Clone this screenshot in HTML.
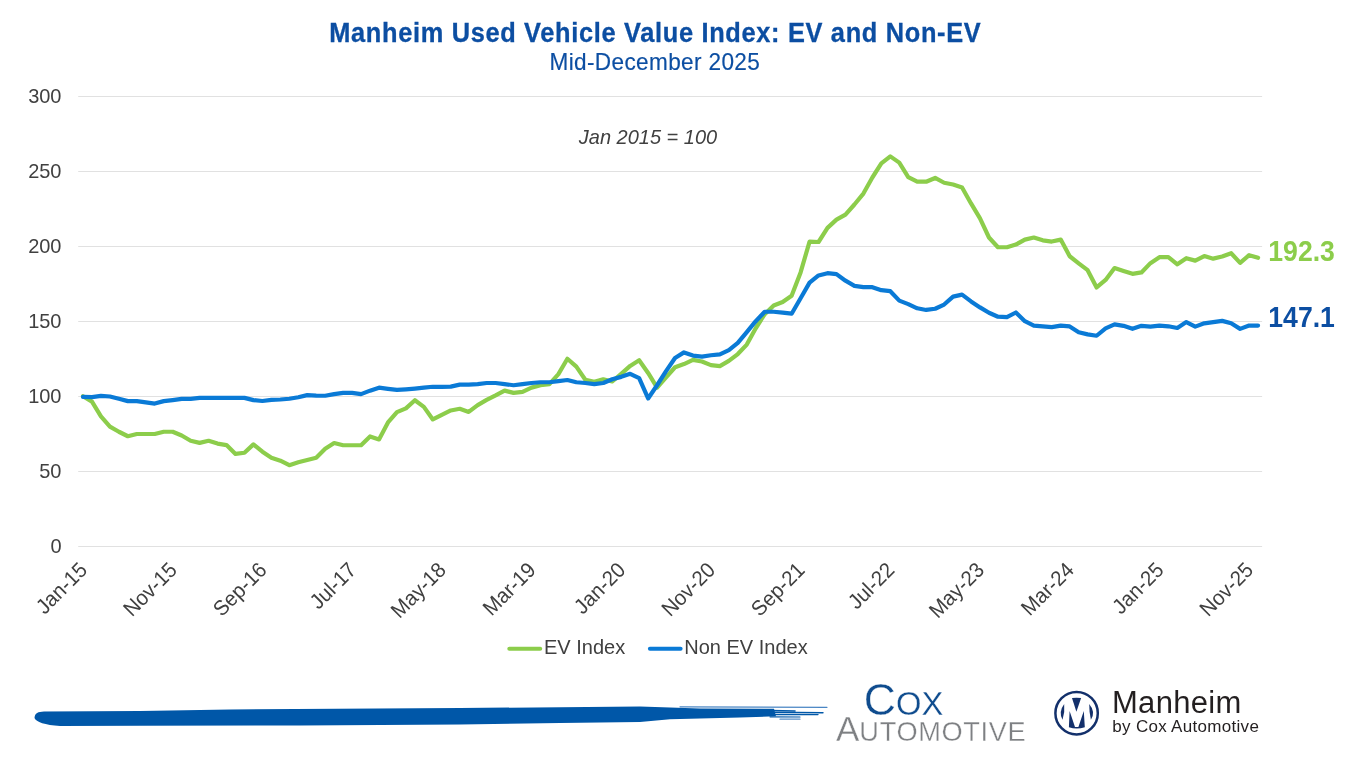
<!DOCTYPE html>
<html><head><meta charset="utf-8">
<style>
html,body{margin:0;padding:0;background:#fff;}
body{width:1356px;height:768px;overflow:hidden;}
svg{display:block;font-family:"Liberation Sans",sans-serif;will-change:transform;}
</style></head><body>
<svg width="1356" height="768" viewBox="0 0 1356 768">
<rect width="1356" height="768" fill="#fff"/>
<text transform="translate(655.30,42.00) scale(0.95,1.045)" font-size="26.7" text-anchor="middle" font-weight="bold" letter-spacing="0.72" fill="#0C4EA2" stroke="#0C4EA2" stroke-width="0.3">Manheim Used Vehicle Value Index: EV and Non-EV</text>

<text transform="translate(654.80,69.90) scale(1.0,1.045)" font-size="22.6" text-anchor="middle" letter-spacing="0.35" fill="#0C4EA2" stroke="#0C4EA2" stroke-width="0.15">Mid-December 2025</text>

<g><line x1="78.2" y1="546.50" x2="1262.1" y2="546.50" stroke="#E1E1E1" stroke-width="1.2"/>
<line x1="78.2" y1="471.50" x2="1262.1" y2="471.50" stroke="#E1E1E1" stroke-width="1.2"/>
<line x1="78.2" y1="396.50" x2="1262.1" y2="396.50" stroke="#E1E1E1" stroke-width="1.2"/>
<line x1="78.2" y1="321.50" x2="1262.1" y2="321.50" stroke="#E1E1E1" stroke-width="1.2"/>
<line x1="78.2" y1="246.50" x2="1262.1" y2="246.50" stroke="#E1E1E1" stroke-width="1.2"/>
<line x1="78.2" y1="171.50" x2="1262.1" y2="171.50" stroke="#E1E1E1" stroke-width="1.2"/>
<line x1="78.2" y1="96.50" x2="1262.1" y2="96.50" stroke="#E1E1E1" stroke-width="1.2"/>
</g>
<g fill="#404040"><text transform="translate(61.50,552.50) scale(1.0,1.05)" font-size="20" text-anchor="end" >0</text>
<text transform="translate(61.50,477.50) scale(1.0,1.05)" font-size="20" text-anchor="end" >50</text>
<text transform="translate(61.50,402.50) scale(1.0,1.05)" font-size="20" text-anchor="end" >100</text>
<text transform="translate(61.50,327.50) scale(1.0,1.05)" font-size="20" text-anchor="end" >150</text>
<text transform="translate(61.50,252.50) scale(1.0,1.05)" font-size="20" text-anchor="end" >200</text>
<text transform="translate(61.50,177.50) scale(1.0,1.05)" font-size="20" text-anchor="end" >250</text>
<text transform="translate(61.50,102.50) scale(1.0,1.05)" font-size="20" text-anchor="end" >300</text>
</g>
<text transform="translate(648.00,143.90) scale(1.0,1.04)" font-size="20" text-anchor="middle" font-style="italic" fill="#404040">Jan 2015 = 100</text>

<polyline points="83.00,396.20 91.97,401.60 100.94,416.30 109.91,426.65 118.88,431.75 127.85,436.25 136.82,434.00 145.79,434.00 154.76,434.00 163.73,431.75 172.70,431.75 181.67,435.50 190.64,440.75 199.61,442.85 208.58,440.75 217.55,443.60 226.52,445.10 235.49,453.95 244.46,452.75 253.43,444.35 262.40,451.70 271.37,457.70 280.34,460.70 289.31,465.20 298.28,462.20 307.25,459.95 316.22,457.70 325.19,448.85 334.16,443.00 343.13,445.25 352.10,445.25 361.07,445.25 370.04,436.40 379.01,439.40 387.98,422.45 396.95,412.10 405.92,408.35 414.89,400.25 423.86,406.85 432.83,419.45 441.80,414.80 450.77,410.45 459.74,408.80 468.71,411.95 477.68,405.05 486.65,399.95 495.62,395.45 504.59,390.65 513.56,392.90 522.53,391.85 531.50,387.65 540.47,385.25 549.44,384.20 558.41,374.15 567.38,358.70 576.35,366.65 585.32,379.70 594.29,381.80 603.26,379.25 612.23,381.50 621.20,373.85 630.17,365.90 639.14,360.20 648.11,372.95 657.08,387.65 666.05,377.45 675.02,367.25 683.99,364.10 692.96,359.90 701.93,361.55 710.90,365.15 719.87,366.05 728.84,360.95 737.81,354.05 746.78,344.60 755.75,328.25 764.72,314.15 773.69,305.45 782.66,302.00 791.63,295.70 800.60,272.45 809.57,241.55 818.54,242.00 827.51,227.90 836.48,219.65 845.45,214.55 854.42,204.50 863.39,193.55 872.36,177.50 881.33,163.40 890.30,156.35 899.27,162.65 908.24,177.05 917.21,181.70 926.18,181.70 935.15,177.95 944.12,182.75 953.09,184.55 962.06,187.40 971.03,203.45 980.00,218.45 988.97,237.50 997.94,247.25 1006.91,247.25 1015.88,244.55 1024.85,239.60 1033.82,237.50 1042.79,240.35 1051.76,241.55 1060.73,239.60 1069.70,256.25 1078.67,263.30 1087.64,270.20 1096.61,287.45 1105.58,279.95 1114.55,268.10 1123.52,270.95 1132.49,273.80 1141.46,272.45 1150.43,263.15 1159.40,257.15 1168.37,257.15 1177.34,264.35 1186.31,258.20 1195.28,260.60 1204.25,256.10 1213.22,258.65 1222.19,256.55 1231.16,253.25 1240.13,262.85 1249.10,255.20 1258.07,257.75" fill="none" stroke="#8CCD4B" stroke-width="4.2" stroke-linejoin="round" stroke-linecap="round"/>
<polyline points="83.00,396.95 91.97,397.10 100.94,395.90 109.91,396.50 118.88,398.75 127.85,401.15 136.82,401.15 145.79,402.35 154.76,403.55 163.73,401.15 172.70,400.10 181.67,398.90 190.64,398.90 199.61,397.85 208.58,397.85 217.55,397.85 226.52,397.85 235.49,397.85 244.46,397.85 253.43,400.10 262.40,401.00 271.37,399.95 280.34,399.50 289.31,398.75 298.28,397.25 307.25,395.15 316.22,395.60 325.19,395.75 334.16,394.10 343.13,392.90 352.10,392.90 361.07,394.10 370.04,390.65 379.01,387.65 387.98,388.85 396.95,389.90 405.92,389.30 414.89,388.55 423.86,387.65 432.83,386.75 441.80,386.90 450.77,386.60 459.74,384.65 468.71,384.65 477.68,384.05 486.65,383.00 495.62,383.00 504.59,384.05 513.56,385.25 522.53,384.20 531.50,383.00 540.47,382.25 549.44,382.25 558.41,381.20 567.38,380.00 576.35,382.25 585.32,383.00 594.29,384.20 603.26,383.00 612.23,379.25 621.20,376.85 630.17,373.85 639.14,378.20 648.11,398.45 657.08,385.25 666.05,371.15 675.02,357.95 683.99,352.40 692.96,355.55 701.93,356.60 710.90,355.25 719.87,354.35 728.84,350.15 737.81,342.95 746.78,332.15 755.75,321.20 764.72,311.75 773.69,311.75 782.66,312.65 791.63,313.70 800.60,298.25 809.57,282.65 818.54,275.45 827.51,273.20 836.48,274.10 845.45,280.70 854.42,285.80 863.39,287.15 872.36,287.15 881.33,290.15 890.30,291.20 899.27,300.65 908.24,304.10 917.21,308.30 926.18,309.95 935.15,308.75 944.12,304.55 953.09,296.60 962.06,294.65 971.03,301.40 980.00,307.40 988.97,312.80 997.94,316.70 1006.91,317.15 1015.88,312.50 1024.85,321.20 1033.82,325.70 1042.79,326.45 1051.76,327.05 1060.73,325.70 1069.70,326.45 1078.67,332.30 1087.64,334.40 1096.61,335.75 1105.58,328.40 1114.55,324.35 1123.52,325.85 1132.49,328.85 1141.46,325.85 1150.43,326.60 1159.40,325.55 1168.37,326.30 1177.34,327.95 1186.31,322.10 1195.28,326.60 1204.25,323.30 1213.22,322.10 1222.19,320.90 1231.16,323.30 1240.13,328.85 1249.10,325.55 1258.07,325.55" fill="none" stroke="#0A7AD6" stroke-width="4.2" stroke-linejoin="round" stroke-linecap="round"/>
<text transform="translate(1268.30,261.30) scale(1.0,1.13)" font-size="26.6" font-weight="bold" fill="#8CCD4B">192.3</text>

<text transform="translate(1268.30,327.20) scale(1.0,1.13)" font-size="26.6" font-weight="bold" fill="#0C4EA2">147.1</text>

<g fill="#404040"><text transform="translate(88.50,571.30) rotate(-45) scale(1.0,1.05)" font-size="20.3" text-anchor="end" >Jan-15</text>
<text transform="translate(178.20,571.30) rotate(-45) scale(1.0,1.05)" font-size="20.3" text-anchor="end" >Nov-15</text>
<text transform="translate(267.90,571.30) rotate(-45) scale(1.0,1.05)" font-size="20.3" text-anchor="end" >Sep-16</text>
<text transform="translate(357.60,571.30) rotate(-45) scale(1.0,1.05)" font-size="20.3" text-anchor="end" >Jul-17</text>
<text transform="translate(447.30,571.30) rotate(-45) scale(1.0,1.05)" font-size="20.3" text-anchor="end" >May-18</text>
<text transform="translate(537.00,571.30) rotate(-45) scale(1.0,1.05)" font-size="20.3" text-anchor="end" >Mar-19</text>
<text transform="translate(626.70,571.30) rotate(-45) scale(1.0,1.05)" font-size="20.3" text-anchor="end" >Jan-20</text>
<text transform="translate(716.40,571.30) rotate(-45) scale(1.0,1.05)" font-size="20.3" text-anchor="end" >Nov-20</text>
<text transform="translate(806.10,571.30) rotate(-45) scale(1.0,1.05)" font-size="20.3" text-anchor="end" >Sep-21</text>
<text transform="translate(895.80,571.30) rotate(-45) scale(1.0,1.05)" font-size="20.3" text-anchor="end" >Jul-22</text>
<text transform="translate(985.50,571.30) rotate(-45) scale(1.0,1.05)" font-size="20.3" text-anchor="end" >May-23</text>
<text transform="translate(1075.20,571.30) rotate(-45) scale(1.0,1.05)" font-size="20.3" text-anchor="end" >Mar-24</text>
<text transform="translate(1164.90,571.30) rotate(-45) scale(1.0,1.05)" font-size="20.3" text-anchor="end" >Jan-25</text>
<text transform="translate(1254.60,571.30) rotate(-45) scale(1.0,1.05)" font-size="20.3" text-anchor="end" >Nov-25</text>
</g>
<line x1="509.3" y1="648.8" x2="540.2" y2="648.8" stroke="#8CCD4B" stroke-width="4" stroke-linecap="round"/>
<text transform="translate(544.00,653.90) scale(1.0,1.05)" font-size="20" fill="#404040">EV Index</text>

<line x1="649.9" y1="648.8" x2="680.6" y2="648.8" stroke="#0A7AD6" stroke-width="4" stroke-linecap="round"/>
<text transform="translate(684.30,653.90) scale(1.0,1.05)" font-size="20" fill="#404040">Non EV Index</text>

<path d="M34.5,718 C35,713 38,711.8 44,711.6 L140,711 L230,709.5 L460,708 L640,706.6 L670,707.4 L700,708.4 L774,708.8 L776,716.2 L740,717.6 L700,718.4 L670,719.2 L640,722.1 L560,723 L460,724.5 L300,725.5 L140,725.7 L60,726 C45,725 36,722 34.5,718 Z" fill="#0057A8"/>
<g stroke="#0057A8" stroke-linecap="round">
<path d="M680,706.8 L827,707.3" stroke-width="1.2" stroke="#4a86c4"/>
<path d="M770,710.5 L795,711" stroke-width="1.6"/>
<path d="M770,712.3 L823,712.8" stroke-width="1.4"/>
<path d="M770,714.5 L818,714.6" stroke-width="1.4"/>
<path d="M770,716.8 L800,717" stroke-width="1.2"/>
<path d="M780,719.2 L800,719.2" stroke-width="1.2" stroke="#5a90c8"/>
</g>
<text x="863.8" y="715" font-size="44.5" fill="#0F4C8E" stroke="#fff" stroke-width="0.3">C<tspan font-size="32.8">OX</tspan></text>
<text x="836" y="740.7" font-size="35" fill="#7E8083" stroke="#fff" stroke-width="0.35">A<tspan font-size="27.2" letter-spacing="0.65">UTOMOTIVE</tspan></text>
<circle cx="1076.6" cy="713.2" r="21.2" fill="none" stroke="#13306B" stroke-width="2.5"/>
<g fill="#13306B" transform="translate(1050,688)">
<path d="M22,10.1 Q26.5,9.3 31.1,10.1 L26.4,23.7 Z"/>
<path d="M19.6,23 L25,38.9 L28.4,38.9 L33.8,23 L34.8,39.2 Q26.7,42 18.9,39.2 Z"/>
<path d="M14.2,15.9 Q8.25,23.8 12.5,31.8 Q15.05,23.8 14.2,15.9 Z"/>
<path d="M39.2,15.9 Q45.95,23.8 40.9,31.8 Q39.15,23.8 39.2,15.9 Z"/>
</g>
<text transform="translate(1112.00,713.30) scale(1.0,1.0)" font-size="31" letter-spacing="0.3" fill="#231F20">Manheim</text>

<text transform="translate(1112.30,732.20) scale(1.0,1.0)" font-size="17" letter-spacing="0.3" fill="#231F20">by Cox Automotive</text>

</svg>
</body></html>
